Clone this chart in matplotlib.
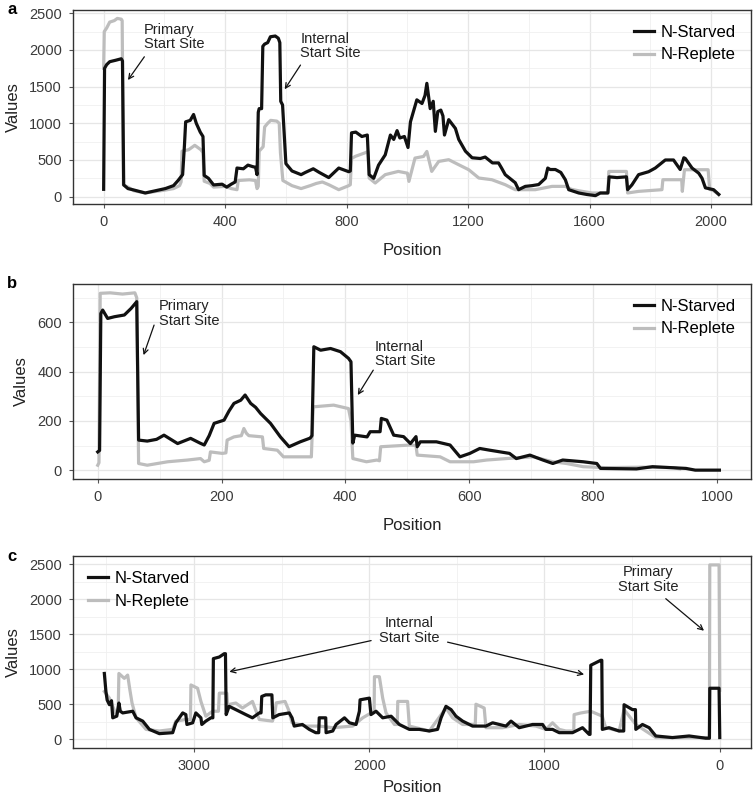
import numpy as np
import matplotlib
matplotlib.use("Agg")
import matplotlib.pyplot as plt
from matplotlib.ticker import AutoMinorLocator

plt.rcParams["font.family"] = ["Liberation Sans", "DejaVu Sans"]

BLACK = "#111111"
GREY = "#bdbdbd"
TXT = "#3a3a3a"

# ---------------------------------------------------------------- panel a
A_STARVED = [(0, 100), (3, 1750), (10, 1800), (20, 1840), (40, 1860), (58, 1880),
             (62, 1850), (66, 160), (80, 110), (100, 90), (137, 50), (170, 80),
             (203, 110), (230, 150), (245, 220), (260, 300), (266, 700),
             (270, 1020), (285, 1040), (296, 1120), (305, 1000), (318, 880),
             (327, 820), (331, 290), (345, 250), (362, 160), (390, 170),
             (405, 130), (420, 170), (433, 200), (439, 390), (460, 380),
             (475, 430), (490, 410), (500, 400), (505, 300), (509, 1150),
             (512, 1200), (520, 1200), (524, 2050), (530, 2080), (540, 2100),
             (549, 2180), (565, 2190), (575, 2160), (580, 2100), (583, 1300),
             (589, 1250), (600, 450), (620, 350), (650, 300), (664, 330),
             (690, 380), (710, 330), (741, 260), (774, 390), (807, 340),
             (812, 350), (816, 870), (830, 880), (850, 820), (868, 840),
             (874, 300), (889, 250), (905, 430), (927, 570), (944, 840),
             (955, 780), (966, 900), (975, 800), (990, 820), (1002, 670),
             (1010, 1020), (1031, 1320), (1048, 1270), (1058, 1380),
             (1064, 1545), (1075, 1200), (1085, 1300), (1092, 890),
             (1100, 1160), (1110, 1180), (1117, 1100), (1122, 840),
             (1136, 1050), (1158, 930), (1169, 780), (1191, 620), (1213, 530),
             (1240, 520), (1256, 540), (1280, 460), (1300, 460), (1310, 390),
             (1322, 300), (1355, 190), (1366, 95), (1388, 140), (1410, 150),
             (1432, 165), (1454, 250), (1462, 390), (1470, 370), (1487, 370),
             (1505, 330), (1520, 230), (1531, 95), (1564, 50), (1590, 30),
             (1619, 14), (1635, 50), (1660, 50), (1664, 270), (1690, 260),
             (1721, 270), (1725, 95), (1739, 160), (1761, 300), (1794, 340),
             (1816, 390), (1849, 500), (1876, 500), (1898, 370), (1910, 530),
             (1915, 520), (1937, 390), (1959, 320), (1970, 250), (1981, 120),
             (2008, 95), (2025, 30)]
A_REPLETE = [(0, 1750), (2, 2250), (10, 2300), (20, 2380), (35, 2400),
             (45, 2430), (58, 2420), (61, 2400), (65, 160), (80, 130),
             (100, 80), (137, 50), (170, 70), (203, 90), (230, 110), (250, 150),
             (255, 200), (258, 620), (280, 640), (300, 700), (320, 640),
             (327, 600), (331, 210), (350, 180), (362, 130), (400, 140),
             (420, 110), (439, 95), (443, 220), (480, 230), (500, 220),
             (505, 110), (509, 140), (512, 620), (525, 680), (530, 950),
             (540, 1000), (550, 1040), (570, 1030), (578, 1000), (582, 600),
             (590, 220), (620, 150), (650, 110), (680, 150), (700, 180),
             (720, 200), (741, 163), (774, 95), (807, 150), (812, 163),
             (816, 520), (829, 550), (862, 600), (870, 616), (874, 254),
             (894, 186), (927, 300), (970, 344), (1000, 320), (1005, 208),
             (1025, 526), (1053, 548), (1064, 616), (1080, 344), (1103, 480),
             (1136, 504), (1169, 435), (1202, 367), (1235, 254), (1278, 231),
             (1322, 163), (1355, 95), (1421, 95), (1476, 140), (1520, 140),
             (1540, 100), (1564, 80), (1608, 50), (1660, 50), (1663, 344),
             (1721, 344), (1725, 50), (1761, 72), (1838, 95), (1841, 231),
             (1903, 231), (1905, 72), (1912, 367), (1990, 367), (1995, 100),
             (2008, 80), (2025, 30)]

# ---------------------------------------------------------------- panel b
B_STARVED = [(0, 74), (3, 80), (5, 636), (8, 650), (16, 616), (27, 623),
             (43, 630), (54, 657), (63, 684), (66, 122), (80, 118), (95, 125),
             (107, 142), (118, 125), (129, 108), (150, 129), (165, 110),
             (172, 102), (180, 140), (188, 190), (204, 203), (212, 240),
             (220, 271), (231, 284), (238, 305), (247, 271), (255, 255),
             (263, 230), (279, 190), (295, 135), (309, 95), (327, 115),
             (343, 130), (346, 140), (349, 501), (360, 487), (376, 494),
             (392, 481), (405, 454), (409, 440), (412, 110), (415, 142),
             (435, 135), (440, 156), (456, 156), (458, 210), (467, 203),
             (478, 142), (494, 136), (505, 108), (514, 136), (516, 95),
             (521, 115), (547, 115), (569, 102), (585, 54), (601, 68),
             (617, 88), (633, 81), (665, 68), (676, 47), (698, 61), (719, 41),
             (735, 27), (751, 41), (784, 34), (806, 27), (812, 7), (870, 5),
             (896, 14), (950, 7), (965, 0), (1004, 0)]
B_REPLETE = [(0, 20), (2, 30), (4, 718), (20, 720), (40, 715), (60, 720),
             (63, 700), (66, 27), (80, 20), (113, 34), (145, 41), (166, 47),
             (172, 34), (180, 40), (182, 74), (201, 68), (207, 70), (209, 122),
             (220, 135), (232, 140), (236, 169), (240, 150), (244, 140),
             (266, 135), (268, 88), (290, 81), (300, 54), (345, 54),
             (348, 257), (381, 264), (405, 250), (409, 200), (412, 47),
             (434, 34), (451, 41), (455, 38), (457, 95), (505, 102), (514, 100),
             (516, 61), (553, 54), (569, 34), (607, 34), (628, 41), (660, 47),
             (703, 54), (735, 34), (757, 27), (784, 14), (820, 10), (880, 12),
             (930, 10), (940, 5)]

# ---------------------------------------------------------------- panel c
C_STARVED = [(3511, 939), (3502, 682), (3495, 560), (3482, 493), (3470, 550),
             (3463, 306), (3440, 330), (3428, 517), (3420, 400), (3406, 376),
             (3349, 400), (3330, 306), (3292, 259), (3254, 141), (3197, 80),
             (3121, 94), (3103, 235), (3064, 376), (3046, 352), (3040, 211),
             (3007, 235), (2989, 376), (2960, 306), (2955, 211), (2932, 259),
             (2903, 306), (2892, 306), (2889, 1151), (2855, 1174),
             (2827, 1221), (2820, 1221), (2816, 352), (2799, 470), (2761, 423),
             (2704, 352), (2666, 306), (2627, 376), (2617, 376), (2613, 611),
             (2590, 634), (2555, 634), (2550, 306), (2514, 352), (2456, 376),
             (2440, 306), (2428, 188), (2381, 211), (2342, 141), (2305, 94),
             (2288, 94), (2285, 306), (2248, 306), (2246, 94), (2208, 118),
             (2189, 211), (2141, 306), (2113, 235), (2075, 211), (2056, 400),
             (2052, 563), (1999, 587), (1990, 352), (1961, 400), (1923, 306),
             (1875, 329), (1828, 211), (1771, 141), (1714, 141), (1657, 118),
             (1610, 141), (1590, 306), (1562, 470), (1533, 423), (1505, 329),
             (1467, 259), (1410, 188), (1334, 188), (1296, 235), (1220, 188),
             (1191, 259), (1144, 165), (1068, 211), (1011, 211), (992, 141),
             (954, 141), (916, 94), (840, 94), (783, 165), (745, 70),
             (740, 70), (736, 1056), (679, 1127), (673, 1127), (670, 141),
             (632, 165), (574, 118), (548, 118), (546, 493), (498, 423),
             (481, 423), (479, 141), (441, 211), (403, 165), (365, 47),
             (270, 24), (175, 47), (80, 15), (59, 15), (57, 728), (4, 728),
             (0, 24)]
C_REPLETE = [(3511, 682), (3482, 587), (3444, 352), (3432, 400), (3428, 939),
             (3397, 869), (3378, 916), (3365, 700), (3353, 517), (3330, 306),
             (3273, 141), (3197, 118), (3121, 141), (3103, 259), (3046, 282),
             (3020, 282), (3017, 775), (2979, 728), (2960, 540), (2932, 329),
             (2894, 400), (2860, 400), (2855, 658), (2812, 658), (2808, 493),
             (2761, 517), (2723, 446), (2666, 540), (2627, 282), (2552, 259),
             (2540, 350), (2530, 520), (2480, 540), (2460, 420), (2440, 235),
             (2362, 188), (2285, 188), (2208, 165), (2094, 188), (2037, 306),
             (1989, 376), (1972, 400), (1970, 893), (1942, 893), (1923, 587),
             (1904, 376), (1856, 211), (1840, 211), (1837, 540), (1781, 540),
             (1771, 188), (1657, 118), (1562, 446), (1524, 306), (1467, 211),
             (1395, 211), (1391, 500), (1344, 446), (1334, 165), (1239, 165),
             (1144, 211), (1049, 188), (992, 141), (954, 235), (916, 141),
             (878, 118), (833, 118), (831, 352), (793, 375), (736, 400),
             (670, 329), (651, 165), (574, 118), (546, 423), (479, 211),
             (365, 24), (70, 24), (59, 24), (57, 2488), (4, 2488), (0, 700)]

LABELS = ["N-Starved", "N-Replete"]

# (text, text xy, list of (arrow start, arrow end), alignment)
ANN_A = [("Primary\nStart Site", (132, 2174), [((134, 1907), (80, 1590))], "left"),
         ("Internal\nStart Site", (648, 2052), [((648, 1794), (596, 1464))], "left")]
ANN_B = [("Primary\nStart Site", (99, 636), [((91, 589), (74, 467))], "left"),
         ("Internal\nStart Site", (447, 472), [((445, 406), (420, 305))], "left")]
ANN_C = [("Primary\nStart Site", (409, 2277), [((308, 2006), (90, 1549))], "center"),
         ("Internal\nStart Site", (1771, 1555),
          [((1989, 1408), (2798, 963)), ((1553, 1386), (774, 925))], "center")]


def style(ax):
    ax.set_facecolor("white")
    ax.xaxis.set_minor_locator(AutoMinorLocator(2))
    ax.yaxis.set_minor_locator(AutoMinorLocator(2))
    ax.grid(True, which="major", color="#e6e6e6", lw=0.9, zorder=0)
    ax.grid(True, which="minor", color="#f0f0f0", lw=0.6, zorder=0)
    ax.tick_params(which="minor", length=0)
    ax.tick_params(which="major", length=3, width=0.8, color="#555555",
                   labelsize=10.5, labelcolor=TXT, pad=5)
    for s in ax.spines.values():
        s.set_color("#333333")
        s.set_linewidth(1.0)
    ax.set_axisbelow(True)


def panel(ax, starved, replete, anns, letter, legend_loc, xpad=10):
    st = np.array(starved).T
    rp = np.array(replete).T
    ax.plot(rp[0], rp[1], color=GREY, lw=2.3, label=LABELS[1], zorder=2)
    ax.plot(st[0], st[1], color=BLACK, lw=2.3, label=LABELS[0], zorder=3)
    h, l = ax.get_legend_handles_labels()
    ax.legend(h[::-1], l[::-1], loc=legend_loc, frameon=False, fontsize=12,
              handlelength=1.2, handletextpad=0.4, labelspacing=0.45)
    for txt, xy, arrows, ha in anns:
        ax.text(xy[0], xy[1], txt, ha=ha, va="center", fontsize=10.5,
                color="#222222", linespacing=1.05, zorder=4)
        for a0, a1 in arrows:
            ax.annotate("", xy=a1, xytext=a0, zorder=4,
                        arrowprops=dict(arrowstyle="->", lw=0.9,
                                        color="#111111", mutation_scale=9,
                                        shrinkA=0, shrinkB=0))
    ax.set_xlabel("Position", fontsize=12, color="#222222", labelpad=xpad)
    ax.set_ylabel("Values", fontsize=12, color="#222222", labelpad=6)
    style(ax)
    ax.text(-0.097, 1.0, letter, transform=ax.transAxes, fontsize=12,
            fontweight="bold", ha="left", va="center")


fig = plt.figure(figsize=(7.53, 7.99), dpi=100)
ax_a = fig.add_axes([0.0969, 0.7447, 0.9004, 0.2428])
ax_b = fig.add_axes([0.0969, 0.4005, 0.9004, 0.2441])
ax_c = fig.add_axes([0.0969, 0.0638, 0.9004, 0.2403])

panel(ax_a, A_STARVED, A_REPLETE, ANN_A, "a", "upper right")
ax_a.set_xlim(-101, 2131)
ax_a.set_ylim(-100, 2545)
ax_a.set_xticks([0, 400, 800, 1200, 1600, 2000])
ax_a.set_yticks([0, 500, 1000, 1500, 2000, 2500])

panel(ax_b, B_STARVED, B_REPLETE, ANN_B, "b", "upper right")
ax_b.set_xlim(-40, 1055)
ax_b.set_ylim(-36, 756)
ax_b.set_xticks([0, 200, 400, 600, 800, 1000])
ax_b.set_yticks([0, 200, 400, 600])

panel(ax_c, C_STARVED, C_REPLETE, ANN_C, "c", "upper left", xpad=5)
ax_c.set_xlim(3690, -178)
ax_c.set_ylim(-125, 2615)
ax_c.set_xticks([0, 1000, 2000, 3000])
ax_c.set_yticks([0, 500, 1000, 1500, 2000, 2500])

fig.savefig("out.png", dpi=100)
